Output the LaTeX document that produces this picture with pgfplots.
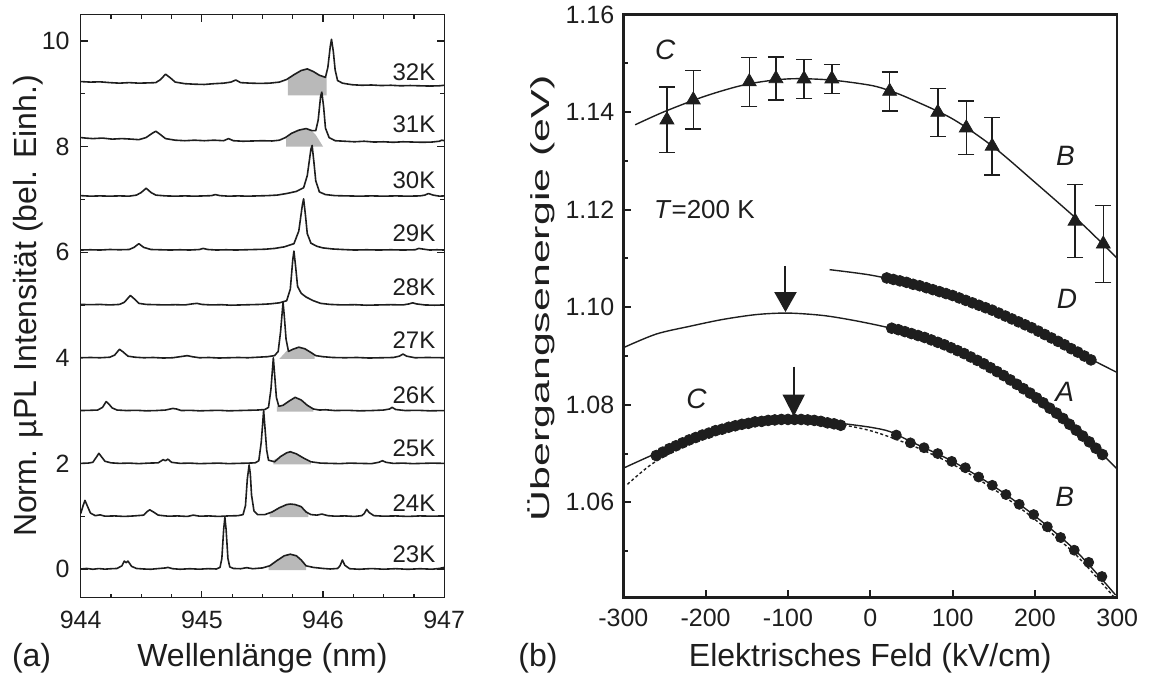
\documentclass[border=0pt]{standalone}
\usepackage{fontspec}
\setmainfont{Liberation Sans}
\setsansfont{Liberation Sans}
\usepackage{pgfplots}
\pgfplotsset{compat=1.18}
\usetikzlibrary{arrows.meta}

\definecolor{ink}{RGB}{30,30,30}
\definecolor{peakgray}{RGB}{185,185,185}

\pgfplotsset{
  trace/.style={ink, line width=0.8pt, line join=round},
  bump/.style={fill=peakgray, draw=none},
  ticks12/.style={
    /pgf/number format/assume math mode=true,
    ticklabel style={font=\fontsize{12.5}{14}\selectfont, text=ink},
  },
}

\begin{document}
\begin{tikzpicture}
\useasboundingbox (0,0) rectangle (576.5pt,338.5pt);

% ---------------- (a) spectra ----------------
\begin{axis}[
  at={(40.35pt,39.75pt)}, anchor=south west,
  scale only axis, width=181.75pt, height=291.5pt,
  xmin=944, xmax=947, ymin=-0.54, ymax=10.5,
  xtick={944,945,946,947}, minor x tick num=3,
  ytick={0,2,...,10}, minor y tick num=1,
  tick pos=both, tick align=inside,
  major tick length=3.5pt, minor tick length=2pt,
  axis line style={ink, line width=0.65pt},
  every tick/.style={ink, line width=0.6pt},
  ticks12,
  xticklabel style={yshift=-3pt},
  yticklabel style={xshift=-2pt},
  xlabel={Wellenlänge (nm)},
  ylabel={Norm. µPL Intensität (bel. Einh.)},
  label style={font=\fontsize{16}{19}\selectfont, text=ink},
  xlabel style={at={(axis description cs:0.5,-0.1187)}, anchor=base},
  ylabel style={at={(axis description cs:-0.145,0.5)}, anchor=center},
  clip mode=individual,
]
% shaded broad bumps
\addplot[bump] coordinates {(945.55,-0.02) (945.55,0.05) (945.62,0.16) (945.68,0.25) (945.73,0.28) (945.78,0.25) (945.82,0.17) (945.86,0.06) (945.86,-0.02)} -- cycle;
\addplot[bump] coordinates {(945.56,0.98) (945.56,1.06) (945.64,1.16) (945.70,1.22) (945.73,1.23) (945.77,1.22) (945.82,1.18) (945.86,1.08) (945.88,1.04) (945.88,0.98)} -- cycle;
\addplot[bump] coordinates {(945.59,1.98) (945.59,2.06) (945.65,2.13) (945.70,2.20) (945.73,2.22) (945.78,2.18) (945.84,2.10) (945.90,2.03) (945.90,1.98)} -- cycle;
\addplot[bump] coordinates {(945.62,2.98) (945.62,3.08) (945.67,3.10) (945.72,3.18) (945.77,3.25) (945.82,3.20) (945.87,3.10) (945.92,3.03) (945.92,2.98)} -- cycle;
\addplot[bump] coordinates {(945.64,3.98) (945.70,4.13) (945.75,4.16) (945.80,4.20) (945.85,4.17) (945.90,4.10) (945.93,4.05) (945.93,3.98)} -- cycle;
\addplot[bump] coordinates {(945.695,8.0) (945.695,8.15) (945.74,8.24) (945.80,8.31) (945.86,8.34) (945.90,8.31) (945.94,8.22) (946.00,8.0)} -- cycle;
\addplot[bump] coordinates {(945.71,8.97) (945.71,9.28) (945.76,9.36) (945.82,9.44) (945.87,9.47) (945.92,9.42) (945.97,9.35) (946.03,9.31) (946.03,8.97)} -- cycle;

% 23K
\addplot[trace] coordinates {
(944.00,0.00) (944.05,0.01) (944.10,-0.005) (944.15,0.008) (944.20,-0.003) (944.25,0.005) (944.30,0.01)
(944.34,0.06) (944.36,0.15) (944.375,0.12) (944.39,0.15) (944.42,0.05) (944.46,0.01) (944.52,0.0)
(944.58,-0.005) (944.64,0.008) (944.70,0.02) (944.72,0.03) (944.76,0.005) (944.82,-0.005) (944.90,0.005)
(944.98,-0.004) (945.05,0.006) (945.12,0.0) (945.15,0.03) (945.165,0.2) (945.18,0.75) (945.19,0.98)
(945.20,0.75) (945.215,0.2) (945.23,0.04) (945.26,0.01) (945.32,0.005) (945.37,0.025) (945.42,0.005)
(945.50,0.02) (945.56,0.06) (945.62,0.16) (945.68,0.25) (945.73,0.28) (945.78,0.25) (945.82,0.17)
(945.86,0.06) (945.92,0.03) (946.00,0.01) (946.06,0.0) (946.12,0.01) (946.14,0.06) (946.16,0.17)
(946.18,0.07) (946.22,0.005) (946.30,-0.005) (946.40,0.008) (946.50,-0.004) (946.60,0.006) (946.70,-0.006)
(946.80,0.005) (946.90,-0.004) (946.96,0.01) (947.00,0.03)};
% 24K
\addplot[trace] coordinates {
(944.00,1.05) (944.02,1.20) (944.035,1.30) (944.05,1.22) (944.08,1.06) (944.12,1.01) (944.16,1.025)
(944.20,1.0) (944.28,1.005) (944.36,0.995) (944.44,1.005) (944.52,1.02) (944.55,1.09) (944.57,1.12)
(944.60,1.08) (944.64,1.02) (944.72,1.0) (944.80,1.005) (944.88,0.995) (944.93,1.02) (944.98,1.0)
(945.06,1.005) (945.14,0.995) (945.22,1.005) (945.30,1.01) (945.34,1.03) (945.36,1.2) (945.375,1.7)
(945.39,1.97) (945.40,1.8) (945.41,1.4) (945.43,1.1) (945.46,1.03) (945.52,1.03) (945.58,1.08)
(945.64,1.16) (945.70,1.22) (945.73,1.23) (945.77,1.22) (945.82,1.18) (945.86,1.08) (945.90,1.03)
(945.95,1.02) (945.99,1.04) (946.04,1.01) (946.10,1.0) (946.18,1.005) (946.26,0.995) (946.32,1.01)
(946.34,1.05) (946.36,1.13) (946.38,1.07) (946.42,1.01) (946.50,1.0) (946.60,1.005) (946.70,0.995)
(946.80,1.005) (946.90,1.0) (947.00,1.005)};
% 25K
\addplot[trace] coordinates {
(944.00,2.0) (944.06,2.005) (944.10,2.02) (944.13,2.12) (944.15,2.19) (944.17,2.13) (944.20,2.04)
(944.25,2.01) (944.32,2.0) (944.40,2.005) (944.48,1.995) (944.56,2.005) (944.64,2.01) (944.68,2.07)
(944.70,2.05) (944.72,2.08) (944.75,2.02) (944.82,2.0) (944.90,2.005) (944.98,1.995) (945.06,2.0)
(945.14,2.005) (945.22,1.995) (945.30,2.0) (945.38,2.005) (945.44,2.01) (945.47,2.05) (945.49,2.4)
(945.51,3.0) (945.52,2.7) (945.535,2.25) (945.55,2.06) (945.60,2.03) (945.65,2.13) (945.70,2.20)
(945.73,2.22) (945.78,2.18) (945.84,2.10) (945.90,2.03) (945.98,2.005) (946.06,2.0) (946.14,1.995)
(946.22,2.005) (946.30,2.0) (946.40,1.995) (946.46,2.02) (946.49,2.05) (946.52,2.02) (946.58,2.0)
(946.66,2.005) (946.74,1.995) (946.82,2.0) (946.90,2.005) (947.00,2.0)};
% 26K
\addplot[trace] coordinates {
(944.00,3.0) (944.08,3.005) (944.14,3.01) (944.18,3.06) (944.21,3.17) (944.23,3.13) (944.26,3.05)
(944.30,3.01) (944.38,3.0) (944.46,3.005) (944.54,2.995) (944.62,3.0) (944.70,3.01) (944.76,3.04)
(944.79,3.03) (944.83,3.0) (944.90,3.005) (944.98,2.995) (945.06,3.0) (945.14,3.005) (945.22,2.995)
(945.30,3.0) (945.38,3.005) (945.46,3.01) (945.52,3.02) (945.55,3.06) (945.57,3.4) (945.59,4.0)
(945.60,3.7) (945.615,3.25) (945.635,3.08) (945.67,3.10) (945.72,3.18) (945.77,3.25) (945.82,3.20)
(945.87,3.10) (945.92,3.03) (945.97,3.01) (946.02,3.015) (946.10,3.0) (946.20,3.005) (946.30,2.995)
(946.40,3.0) (946.50,3.01) (946.55,3.03) (946.57,3.06) (946.60,3.02) (946.68,3.0) (946.78,3.005)
(946.88,2.995) (947.00,3.0)};
% 27K
\addplot[trace] coordinates {
(944.00,4.0) (944.08,4.005) (944.16,4.0) (944.24,4.01) (944.28,4.05) (944.32,4.16) (944.35,4.11)
(944.39,4.03) (944.45,4.01) (944.52,4.0) (944.60,4.005) (944.68,3.995) (944.76,4.0) (944.82,4.02)
(944.88,4.04) (944.92,4.02) (944.98,4.0) (945.06,4.005) (945.14,3.995) (945.22,4.0) (945.30,4.005)
(945.38,4.0) (945.46,4.01) (945.54,4.02) (945.60,4.04) (945.63,4.12) (945.65,4.5) (945.67,5.05)
(945.68,4.8) (945.695,4.35) (945.715,4.12) (945.75,4.16) (945.80,4.20) (945.85,4.17) (945.90,4.10)
(945.94,4.04) (946.00,4.02) (946.08,4.005) (946.18,4.0) (946.28,4.005) (946.38,3.995) (946.48,4.0)
(946.58,4.005) (946.63,4.03) (946.66,4.07) (946.69,4.03) (946.76,4.0) (946.86,4.005) (947.00,4.0)};
% 28K
\addplot[trace] coordinates {
(944.00,5.01) (944.08,5.005) (944.16,5.01) (944.24,5.0) (944.32,5.01) (944.36,5.05) (944.41,5.18)
(944.44,5.12) (944.48,5.03) (944.54,5.01) (944.62,5.005) (944.70,5.0) (944.78,5.005) (944.86,5.0)
(944.92,5.02) (944.96,5.03) (945.00,5.01) (945.08,5.0) (945.16,5.005) (945.24,4.995) (945.32,5.0)
(945.40,5.005) (945.48,5.01) (945.56,5.02) (945.64,5.04) (945.70,5.08) (945.73,5.3) (945.75,5.85)
(945.76,6.02) (945.775,5.7) (945.79,5.35) (945.82,5.22) (945.86,5.15) (945.92,5.08) (945.98,5.03)
(946.06,5.01) (946.16,5.0) (946.26,5.005) (946.36,4.995) (946.46,5.0) (946.56,5.005) (946.66,5.0)
(946.71,5.02) (946.74,5.04) (946.77,5.02) (946.84,5.0) (946.92,4.995) (947.00,5.0)};
% 29K
\addplot[trace] coordinates {
(944.00,6.04) (944.08,6.045) (944.16,6.04) (944.24,6.05) (944.32,6.045) (944.40,6.05) (944.44,6.09)
(944.48,6.16) (944.52,6.09) (944.58,6.05) (944.66,6.045) (944.74,6.04) (944.82,6.045) (944.90,6.04)
(944.98,6.05) (945.01,6.07) (945.05,6.05) (945.12,6.04) (945.20,6.045) (945.28,6.04) (945.36,6.045)
(945.44,6.05) (945.52,6.055) (945.60,6.07) (945.68,6.10) (945.76,6.16) (945.80,6.4) (945.83,6.9)
(945.84,7.01) (945.855,6.7) (945.87,6.35) (945.90,6.17) (945.95,6.11) (946.00,6.08) (946.08,6.06)
(946.16,6.05) (946.26,6.04) (946.36,6.045) (946.46,6.04) (946.56,6.045) (946.66,6.04) (946.76,6.045)
(946.79,6.07) (946.82,6.06) (946.88,6.04) (946.94,6.045) (947.00,6.04)};
% 30K
\addplot[trace] coordinates {
(944.00,7.07) (944.08,7.06) (944.16,7.065) (944.24,7.06) (944.32,7.065) (944.40,7.06) (944.46,7.08)
(944.50,7.13) (944.54,7.21) (944.58,7.13) (944.62,7.08) (944.70,7.065) (944.78,7.06) (944.86,7.065)
(944.94,7.06) (945.02,7.065) (945.08,7.07) (945.11,7.09) (945.15,7.07) (945.22,7.06) (945.30,7.065)
(945.38,7.06) (945.46,7.065) (945.54,7.07) (945.62,7.08) (945.70,7.11) (945.78,7.15) (945.84,7.22)
(945.87,7.45) (945.90,7.95) (945.91,8.02) (945.925,7.7) (945.94,7.35) (945.97,7.14) (946.02,7.09)
(946.10,7.07) (946.20,7.065) (946.30,7.06) (946.40,7.065) (946.50,7.06) (946.60,7.065) (946.70,7.06)
(946.80,7.065) (946.84,7.08) (946.87,7.11) (946.91,7.08) (946.96,7.06) (947.00,7.065)};
% 31K
\addplot[trace] coordinates {
(944.00,8.17) (944.04,8.16) (944.10,8.15) (944.18,8.16) (944.26,8.14) (944.34,8.15) (944.42,8.14)
(944.48,8.13) (944.54,8.17) (944.59,8.25) (944.62,8.29) (944.65,8.24) (944.70,8.15) (944.78,8.12)
(944.86,8.11) (944.94,8.12) (945.02,8.11) (945.10,8.12) (945.18,8.11) (945.22,8.15) (945.26,8.11)
(945.34,8.10) (945.42,8.105) (945.50,8.11) (945.58,8.105) (945.64,8.12) (945.69,8.17) (945.74,8.25)
(945.80,8.31) (945.86,8.34) (945.91,8.30) (945.94,8.30) (945.96,8.5) (945.98,8.95) (945.99,9.03)
(946.005,8.75) (946.02,8.35) (946.05,8.17) (946.10,8.11) (946.18,8.10) (946.26,8.09) (946.34,8.10)
(946.42,8.085) (946.50,8.09) (946.58,8.08) (946.66,8.09) (946.74,8.085) (946.82,8.08) (946.90,8.085)
(946.96,8.10) (946.98,8.12) (947.00,8.11)};
% 32K
\addplot[trace] coordinates {
(944.00,9.23) (944.08,9.22) (944.16,9.225) (944.24,9.21) (944.32,9.20) (944.40,9.21) (944.48,9.20)
(944.56,9.205) (944.62,9.21) (944.66,9.27) (944.70,9.37) (944.74,9.30) (944.78,9.22) (944.86,9.19)
(944.94,9.18) (945.02,9.175) (945.10,9.19) (945.18,9.20) (945.24,9.22) (945.28,9.26) (945.32,9.21)
(945.40,9.20) (945.48,9.195) (945.56,9.20) (945.64,9.22) (945.70,9.27) (945.76,9.36) (945.82,9.44)
(945.87,9.47) (945.92,9.42) (945.97,9.35) (946.02,9.31) (946.04,9.5) (946.06,9.9) (946.07,10.03)
(946.085,9.8) (946.10,9.45) (946.12,9.25) (946.16,9.20) (946.24,9.17) (946.32,9.16) (946.40,9.165)
(946.48,9.155) (946.56,9.16) (946.64,9.15) (946.72,9.155) (946.80,9.15) (946.88,9.145) (946.96,9.15)
(947.00,9.16)};

\begin{scope}[every node/.style={anchor=east, inner sep=0pt, font=\fontsize{12}{14}\selectfont, text=ink}]
\node at (axis cs:946.93,9.41) {32K};
\node at (axis cs:946.93,8.42) {31K};
\node at (axis cs:946.93,7.37) {30K};
\node at (axis cs:946.93,6.35) {29K};
\node at (axis cs:946.93,5.34) {28K};
\node at (axis cs:946.93,4.33) {27K};
\node at (axis cs:946.93,3.29) {26K};
\node at (axis cs:946.93,2.28) {25K};
\node at (axis cs:946.93,1.24) {24K};
\node at (axis cs:946.93,0.28) {23K};
\end{scope}
\node[anchor=base west, inner sep=0pt, font=\fontsize{16}{19}\selectfont, text=ink] at (axis description cs:-0.19,-0.1187) {(a)};
\end{axis}

% ---------------- (b) transition energies ----------------
\begin{axis}[
  at={(311.65pt,39.75pt)}, anchor=south west,
  scale only axis, width=247pt, height=291.5pt,
  xmin=-300, xmax=300, ymin=1.0405, ymax=1.16,
  xtick={-300,-200,...,300}, minor x tick num=0,
  ytick={1.06,1.08,...,1.161}, minor ytick={1.05,1.07,...,1.151},
  xtick pos=bottom, ytick pos=left, tick align=inside,
  major tick length=4pt, minor tick length=2.5pt,
  axis line style={ink, line width=1.2pt},
  every tick/.style={ink, line width=1pt},
  ticks12,
  yticklabel style={/pgf/number format/fixed, /pgf/number format/fixed zerofill,
                    /pgf/number format/precision=2, xshift=-1pt},
  xticklabel style={yshift=-2pt},
  xlabel={Elektrisches Feld (kV/cm)},
  ylabel={\scalebox{1.65}[1]{Übergangsenergie (eV)}},
  xlabel style={font=\fontsize{16}{19}\selectfont, text=ink,
                at={(axis description cs:0.5,-0.1187)}, anchor=base},
  ylabel style={font=\fontsize{13}{15}\selectfont, text=ink,
                at={(axis description cs:-0.1666,0.513)}, anchor=center},
  clip mode=individual,
]
% fitted curves
\addplot[ink, line width=0.7pt, smooth] coordinates {
(-285.5,1.1374) (-250,1.1401) (-200,1.1433) (-150,1.1457) (-100,1.1468) (-50,1.1466) (0,1.1455)
(25,1.1443) (50,1.1426) (100,1.1386) (150,1.1328) (200,1.1256) (250,1.1182) (275,1.1142) (300,1.1100)};
\addplot[ink, line width=0.7pt, smooth] coordinates {
(-49.5,1.1077) (0,1.1066) (50,1.1048) (100,1.1024) (150,1.0992) (200,1.0954) (250,1.0909) (300,1.0866)};
\addplot[ink, line width=0.7pt, smooth] coordinates {
(-300,1.0917) (-260,1.0945) (-219,1.0961) (-179,1.0975) (-138,1.0985) (-100,1.0988) (-57,1.0983)
(-17,1.0972) (25,1.0957) (64,1.0939) (104,1.0912) (146,1.0876) (200,1.0815) (250,1.0748) (282,1.0698) (300,1.0668)};
\addplot[ink, line width=0.7pt, smooth] coordinates {
(-300,1.0670) (-262,1.0699) (-219,1.0729) (-179,1.0751) (-138,1.0765) (-95,1.0771) (-60,1.0768)
(-35,1.0762) (0,1.0754) (24,1.0745) (50,1.0724) (100,1.0684) (150,1.0633) (200,1.0572) (250,1.0500) (298,1.0410)};
\addplot[ink, line width=0.7pt, smooth, dash pattern=on 1.5pt off 1.2pt] coordinates {
(-295,1.0637) (-265,1.0679) (-230,1.0712) (-190,1.0740) (-150,1.0758) (-100,1.0768) (-50,1.0763)
(0,1.0747) (50,1.0717) (100,1.0678) (150,1.0627) (200,1.0565) (250,1.0492) (296,1.0406)};

% D data
\addplot[ink, only marks, mark=*, mark size=2.7pt] coordinates {
(20,1.1060) (28,1.1057) (36,1.1054) (44,1.1051) (52,1.1047) (60,1.1044) (68,1.1040) (76,1.1036)
(84,1.1032) (92,1.1028) (100,1.1024) (108,1.1019) (116,1.1014) (124,1.1009) (132,1.1004) (140,1.0999)
(148,1.0994) (156,1.0988) (164,1.0982) (172,1.0976) (180,1.0970) (188,1.0964) (196,1.0958) (204,1.0951)
(212,1.0944) (220,1.0937) (228,1.0930) (236,1.0923) (244,1.0915) (252,1.0908) (260,1.0900) (268,1.0892)};
% A data
\addplot[ink, only marks, mark=*, mark size=2.7pt] coordinates {
(26,1.0957) (34,1.0954) (42,1.0950) (50,1.0946) (58,1.0942) (66,1.0938) (74,1.0933) (82,1.0928)
(90,1.0923) (98,1.0917) (106,1.0911) (114,1.0905) (122,1.0898) (130,1.0891) (138,1.0884) (146,1.0876)
(154,1.0868) (162,1.0860) (170,1.0851) (178,1.0842) (186,1.0833) (194,1.0824) (202,1.0814) (210,1.0804)
(218,1.0793) (226,1.0783) (234,1.0772) (242,1.0760) (250,1.0748) (258,1.0736) (266,1.0724) (274,1.0711) (282,1.0698)};
% C data (low field branch)
\addplot[ink, only marks, mark=*, mark size=2.7pt] coordinates {
(-260,1.0696) (-252,1.0703) (-244,1.0710) (-236,1.0716) (-228,1.0722) (-220,1.0728) (-212,1.0733)
(-204,1.0738) (-196,1.0742) (-188,1.0747) (-180,1.0750) (-172,1.0754) (-164,1.0757) (-156,1.0760)
(-148,1.0762) (-140,1.0765) (-132,1.0766) (-124,1.0768) (-116,1.0769) (-108,1.0770) (-100,1.0770)
(-92,1.0770) (-84,1.0770) (-76,1.0769) (-68,1.0768) (-60,1.0766) (-52,1.0763) (-44,1.0761) (-36,1.0758)};
% B data
\addplot[ink, only marks, mark=*, mark size=2.5pt] coordinates {
(31.6,1.0738) (48.7,1.0722) (65.3,1.0712) (81.9,1.0700) (98.9,1.0684) (115.5,1.0671) (131.6,1.0652)
(148.2,1.0635) (164.8,1.0616) (180.9,1.0596) (198.4,1.0575) (215,1.0550) (231.1,1.0528) (247.7,1.0502)
(265.3,1.0477) (281.3,1.0448)};
% T = 200 K data with error bars
\addplot[ink, only marks, mark=triangle*, mark size=4pt,
  error bars/.cd, y dir=both, y explicit,
  error bar style={line width=0.7pt},
  error mark options={rotate=90, mark size=4pt, line width=0.7pt}]
coordinates {
(-247,1.1384) +- (0,0.0067)
(-215,1.1425) +- (0,0.0060)
(-147,1.1462) +- (0,0.0050)
(-114.6,1.14685) +- (0,0.0044)
(-80.5,1.1468) +- (0,0.0040)
(-46.7,1.1468) +- (0,0.0030)
(23.5,1.14425) +- (0,0.0040)
(82,1.13995) +- (0,0.0049)
(116.6,1.13675) +- (0,0.0055)
(148,1.1330) +- (0,0.0059)
(248.7,1.11765) +- (0,0.0075)
(283,1.11295) +- (0,0.0079)};

\draw[ink, line width=1pt, -{Triangle[length=10pt,width=11pt]}] (axis cs:-103,1.1085) -- (axis cs:-103,1.0990);
\draw[ink, line width=1pt, -{Triangle[length=11pt,width=11pt]}] (axis cs:-93,1.0878) -- (axis cs:-93,1.0776);

\begin{scope}[every node/.style={font=\fontsize{14}{16}\selectfont\itshape, text=ink}]
\node at (axis cs:-249,1.1528) {C};
\node at (axis cs:237,1.1310) {B};
\node at (axis cs:239,1.1017) {D};
\node at (axis cs:236,1.0826) {A};
\node at (axis cs:-211,1.0812) {C};
\node at (axis cs:236,1.0611) {B};
\end{scope}
\node[anchor=west, inner sep=0pt, font=\fontsize{13}{15}\selectfont, text=ink] at (axis cs:-263,1.1201) {\textit{T}=200 K};
\node[anchor=base west, inner sep=0pt, font=\fontsize{16}{19}\selectfont, text=ink] at (axis description cs:-0.213,-0.1187) {(b)};
\end{axis}
\end{tikzpicture}
\end{document}
